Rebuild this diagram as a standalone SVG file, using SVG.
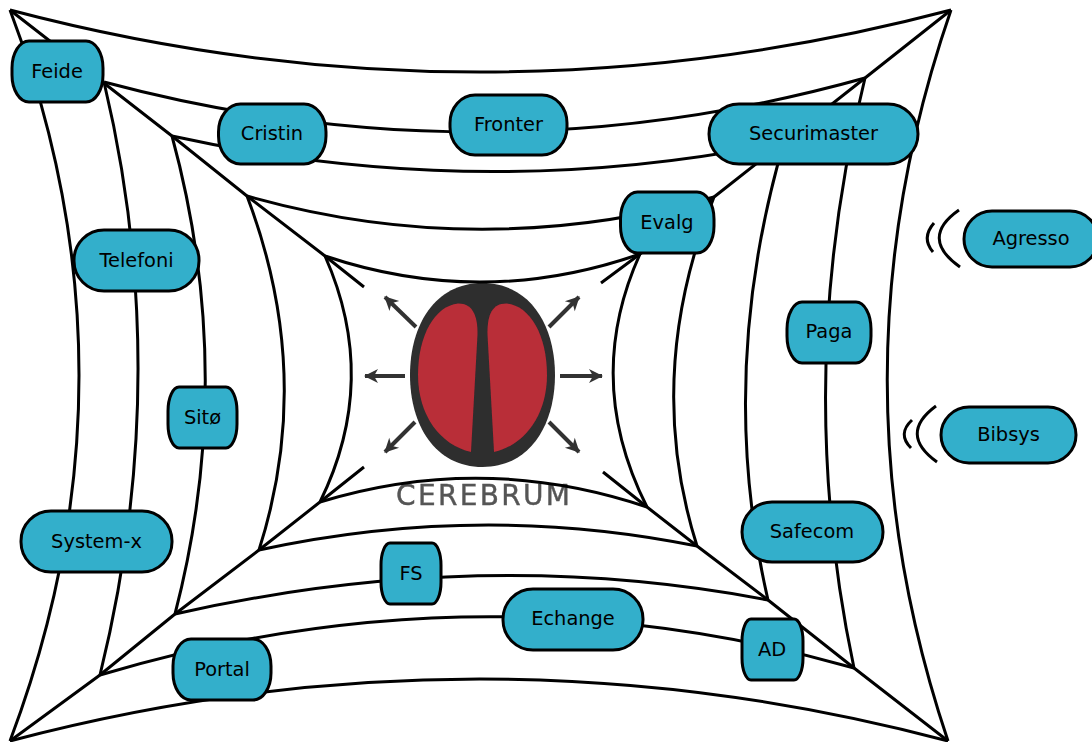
<svg xmlns="http://www.w3.org/2000/svg" width="1092" height="742" viewBox="0 0 1092 742">
<style>
.w{fill:none;stroke:#000;stroke-width:3}
.n{fill:#33afcb;stroke:#000;stroke-width:3}
.t{font-family:"DejaVu Sans",sans-serif;font-size:19.4px;fill:#000;text-anchor:middle}
.a{fill:none;stroke:#333;stroke-width:4;marker-end:url(#h)}
</style>
<defs>
<marker id="h" markerUnits="userSpaceOnUse" markerWidth="18" markerHeight="18" refX="14" refY="9" orient="auto"><path d="M15,9 L1,2 L5,9 L1,16Z" fill="#333"/></marker>
<filter id="b" x="-5%" y="-5%" width="110%" height="110%"><feGaussianBlur stdDeviation="0.6"/></filter>
</defs>
<rect width="1092" height="742" fill="#fff"/>
<g id="logo" filter="url(#b)">
<path d="M482.500,283 C530,283 555,325 555,375 C555,425 530,467 482.500,467 C435,467 410,425 410,375 C410,325 435,283 482.500,283Z" fill="#2d2d2d"/>
<path d="M471,452 L477.500,335 C478,315 472,303 458,303.500 C435,306 418,335 418,375 C418,415 440,445 471,452Z" fill="#b92d38"/>
<path d="M494,452 L487.500,335 C487,315 492,303 507,303.500 C530,306 547,335 547,375 C547,415 525,445 494,452Z" fill="#b92d38"/>
<path class="a" d="M405,376H365"/>
<path class="a" d="M560,376H602"/>
<path class="a" d="M416,327L385,297"/>
<path class="a" d="M549,327L579,297"/>
<path class="a" d="M415,422L385,452"/>
<path class="a" d="M549,422L579,452"/>
<text x="483" y="505" font-family="'DejaVu Sans',sans-serif" font-size="28" fill="#555" stroke="#555" stroke-width="0.4" textLength="174" lengthAdjust="spacing" text-anchor="middle">CEREBRUM</text>
</g>
<g id="connectors">
<path class="w" d="M10,10L172,136L247,196L325,256L364,287"/>
<path class="w" d="M951,10L865,78L714,197L640,254L601,283"/>
<path class="w" d="M10,741L100,675L175,614L259,550L320,502L364,467"/>
<path class="w" d="M948,741L854,668L768,600L697,546L647,507L603,472"/>
<path class="w" d="M10,10Q480,134 951,10"/>
<path class="w" d="M10,10Q148,375 10,741"/>
<path class="w" d="M951,10Q825,375 948,741"/>
<path class="w" d="M10,741Q480,617 948,741"/>
<path class="w" d="M104,82Q485,184 865,78"/>
<path class="w" d="M104,82Q174,375 100,675"/>
<path class="w" d="M865,78Q792,375 854,668"/>
<path class="w" d="M100,675Q480,562 854,668"/>
<path class="w" d="M172,136Q480,204 784,142"/>
<path class="w" d="M172,136Q237,375 175,614"/>
<path class="w" d="M784,142Q716,375 768,600"/>
<path class="w" d="M175,614Q480,545 768,600"/>
<path class="w" d="M247,196Q480,262 714,197"/>
<path class="w" d="M247,196Q315,375 259,550"/>
<path class="w" d="M714,197Q643,375 697,546"/>
<path class="w" d="M259,550Q480,502 697,546"/>
<path class="w" d="M325,256Q483,309 640,254"/>
<path class="w" d="M325,256Q380,380 320,502"/>
<path class="w" d="M640,254Q583,380 647,507"/>
<path class="w" d="M320,502Q483,452 647,507"/>
<path class="w" d="M959,210Q919,238 960,267"/>
<path class="w" d="M934,223Q921,238 933,252"/>
<path class="w" d="M936,406Q898,434 937,462"/>
<path class="w" d="M912,420Q897,434 911,448"/>
</g>
<g id="feide"><rect class="n" x="12" y="41" width="91" height="61" rx="17" ry="27"/><text class="t" x="57" y="78">Feide</text></g>
<g id="cristin"><rect class="n" x="218.500" y="104" width="107.500" height="60" rx="22" ry="28"/><text class="t" x="272" y="140">Cristin</text></g>
<g id="fronter"><rect class="n" x="450" y="95" width="117" height="60" rx="25" ry="28"/><text class="t" x="508.500" y="131">Fronter</text></g>
<g id="securimaster"><rect class="n" x="709" y="104" width="209" height="60" rx="30" ry="30"/><text class="t" x="813.500" y="140">Securimaster</text></g>
<g id="evalg"><rect class="n" x="620.500" y="192" width="93.500" height="61" rx="17" ry="27"/><text class="t" x="667" y="229">Evalg</text></g>
<g id="agresso"><rect class="n" x="964" y="211" width="134" height="56" rx="28" ry="28"/><text class="t" x="1031" y="245">Agresso</text></g>
<g id="telefoni"><rect class="n" x="74" y="230" width="125" height="61" rx="30" ry="30"/><text class="t" x="136.500" y="267">Telefoni</text></g>
<g id="paga"><rect class="n" x="787" y="302" width="84" height="61" rx="15" ry="27"/><text class="t" x="829" y="338">Paga</text></g>
<g id="sitoe"><rect class="n" x="168" y="387" width="69" height="61" rx="11" ry="24"/><text class="t" x="202.500" y="424">Sitø</text></g>
<g id="bibsys"><rect class="n" x="941" y="407" width="135" height="56" rx="28" ry="28"/><text class="t" x="1008.500" y="441">Bibsys</text></g>
<g id="system-x"><rect class="n" x="21" y="511" width="151" height="61" rx="30" ry="30"/><text class="t" x="96.500" y="548">System-x</text></g>
<g id="safecom"><rect class="n" x="742" y="502" width="141" height="60" rx="30" ry="30"/><text class="t" x="812" y="538">Safecom</text></g>
<g id="fs"><rect class="n" x="381" y="543" width="60" height="61" rx="9" ry="22"/><text class="t" x="411" y="580">FS</text></g>
<g id="echange"><rect class="n" x="503" y="589" width="140" height="61" rx="30" ry="30"/><text class="t" x="573" y="625">Echange</text></g>
<g id="ad"><rect class="n" x="742" y="619" width="61" height="61" rx="9" ry="22"/><text class="t" x="772" y="656">AD</text></g>
<g id="portal"><rect class="n" x="173" y="639" width="98" height="61" rx="18" ry="27"/><text class="t" x="222" y="676">Portal</text></g>
</svg>
